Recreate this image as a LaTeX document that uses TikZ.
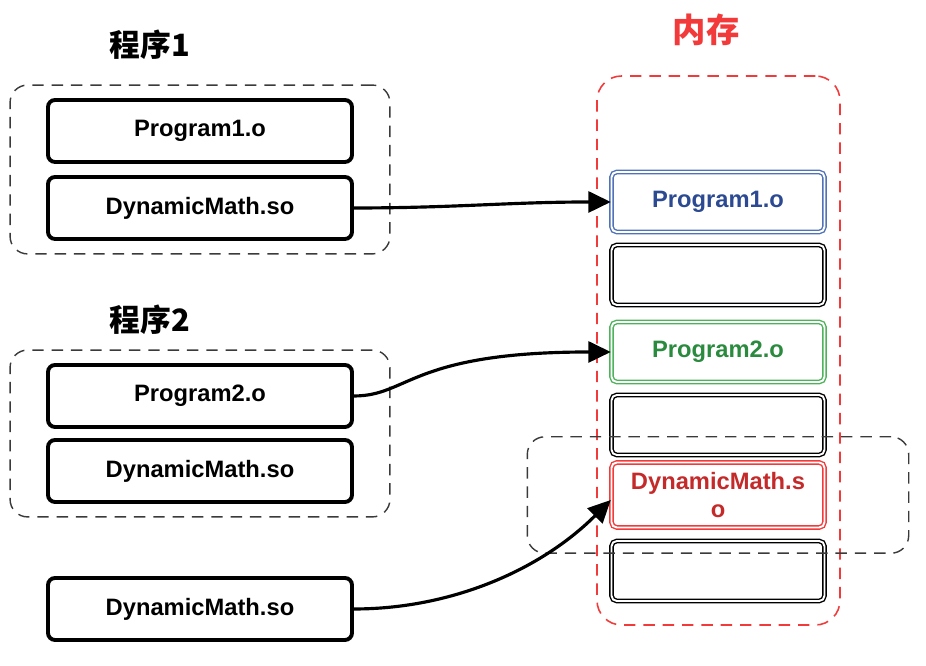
\documentclass[tikz,border=0pt]{standalone}
\usepackage{fontspec}
\setmainfont{Liberation Sans}
\newfontfamily\cjk{Noto Sans CJK SC}
\usetikzlibrary{arrows.meta, positioning, fit}
\definecolor{MemRed}{HTML}{F23A3A}
\definecolor{MemBlue}{HTML}{4F72B8}
\definecolor{MemBlueText}{HTML}{2B4A92}
\definecolor{MemGreen}{HTML}{4DB35A}
\definecolor{MemGreenText}{HTML}{2A8A3E}
\definecolor{MemRedText}{HTML}{C42A2A}
\definecolor{GroupGray}{HTML}{3A3A3A}
\tikzset{
    filebox/.style={
        draw=black,
        line width=2.2pt,
        rounded corners=4pt,
        fill=white,
        minimum width=6.08cm,
        minimum height=1.24cm,
        font=\fontsize{13.5}{15}\selectfont\bfseries,
        align=center
    },
    membox/.style={
        draw=#1,
        line width=0.8pt,
        double=white,
        double distance=1.1pt,
        rounded corners=3pt,
        minimum width=4.26cm,
        minimum height=1.2cm,
        font=\fontsize{13.5}{16}\selectfont\bfseries,
        align=center
    },
    membox/.default=black,
    groupbox/.style={
        draw=GroupGray,
        line width=0.8pt,
        dash pattern=on 6.5pt off 4.5pt,
        rounded corners=10pt
    },
    title/.style={
        font=\cjk\fontsize{17.5}{19}\selectfont\bfseries
    },
    link/.style={
        line width=1.8pt,
        -{Triangle[length=0.45cm,width=0.42cm]}
    }
}
\begin{document}
\begin{tikzpicture}
    \useasboundingbox (0,0) rectangle (18.52,13.32);

    % Program 1
    \node[title] (t1) at (3.0,12.42) {程序1};
    \node[filebox] (p1) at (4.0,10.70) {Program1.o};
    \node[filebox] (d1) at (4.0,9.16) {DynamicMath.so};
    \node[groupbox, fit=(p1)(d1), inner xsep=0.72cm, inner ysep=0.26cm] (g1) {};

    % Program 2
    \node[title] (t2) at (3.0,6.92) {程序2};
    \node[filebox] (p2) at (4.0,5.40) {Program2.o};
    \node[filebox] (d2) at (4.0,3.90) {DynamicMath.so};
    \node[groupbox, fit=(p2)(d2), inner xsep=0.72cm, inner ysep=0.26cm] (g2) {};

    % shared library file
    \node[filebox] (d3) at (4.0,1.14) {DynamicMath.so};

    % Memory
    \node[title, text=MemRed, font=\cjk\fontsize{19}{21}\selectfont\bfseries] (tm) at (14.12,12.72) {内存};
    \node[draw=MemRed, line width=0.9pt, dash pattern=on 6.5pt off 4.5pt,
          rounded corners=14pt, minimum width=4.86cm, minimum height=10.98cm]
          (mem) at (14.37,6.31) {};
    \node[membox=MemBlue, text=MemBlueText] (m1) at (14.36,9.28) {Program1.o};
    \node[membox] (m2) at (14.36,7.82) {};
    \node[membox=MemGreen, text=MemGreenText] (m3) at (14.36,6.28) {Program2.o};
    \node[membox] (m4) at (14.36,4.82) {};
    \node[membox=MemRed, text=MemRedText, minimum height=1.3cm] (m5) at (14.36,3.42) {DynamicMath.s\\o};
    \node[membox] (m6) at (14.36,1.90) {};
    \node[groupbox, fit=(m5), inner xsep=1.67cm, inner ysep=0.5cm] (gm) {};

    % Links
    \draw[link] (d1.east) to[out=0, in=180] (m1.west);
    \draw[link] (p2.east) .. controls ([xshift=1.1cm]p2.east) and ([xshift=-4cm]m3.west) .. (m3.west);
    \draw[link] (d3.east) to[out=0, in=225, looseness=0.9] ([yshift=-0.1cm]m5.west);
\end{tikzpicture}
\end{document}
